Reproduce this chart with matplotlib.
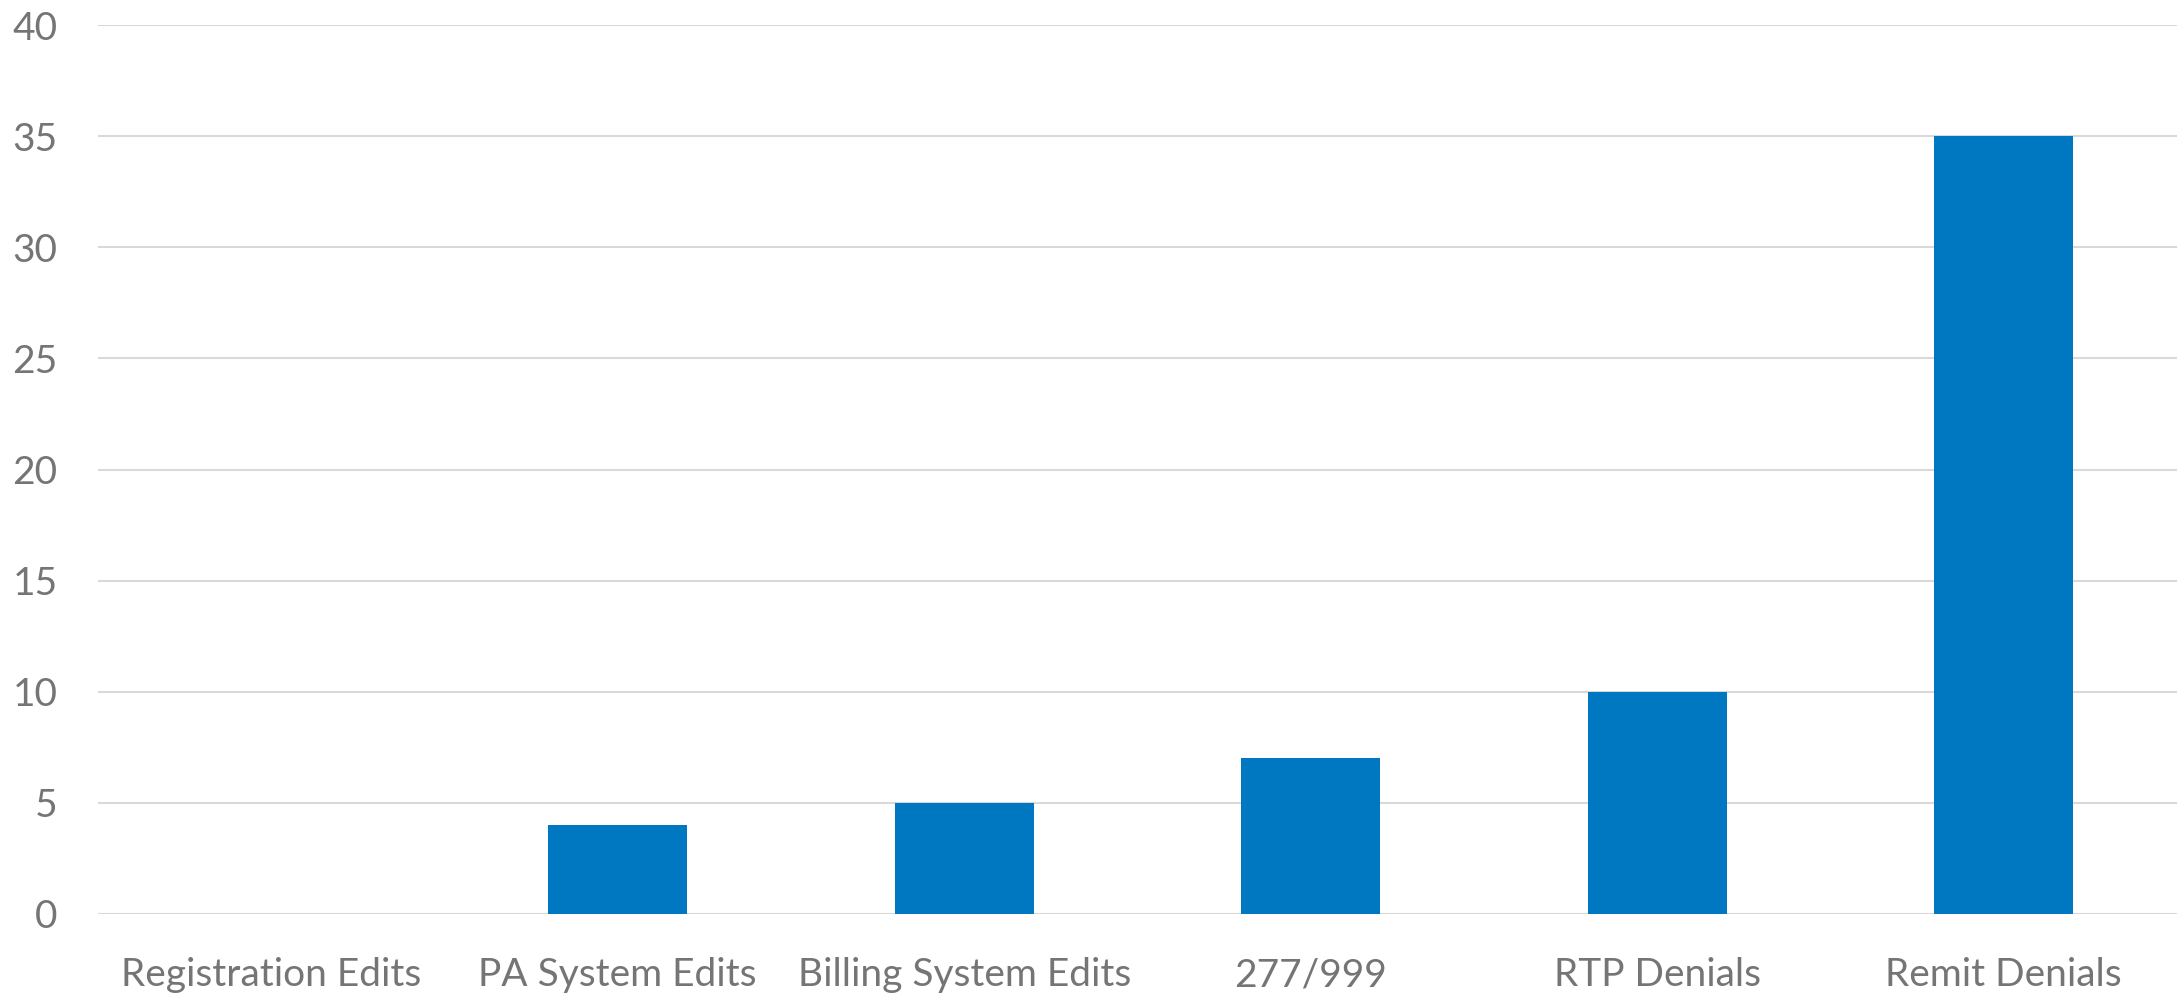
import matplotlib
matplotlib.use("Agg")
import matplotlib.pyplot as plt
import numpy as np

# Data
categories = ["Registration Edits", "PA System Edits", "Billing System Edits",
              "277/999", "RTP Denials", "Remit Denials"]
counts = [0, 4, 5, 7, 10, 35]
y_ticks = [0, 5, 10, 15, 20, 25, 30, 35, 40]

bar_color = "#0078C1"
text_color = "#757575"
grid_color = "#D9D9D9"

plt.rcParams['font.family'] = ['Lato', 'DejaVu Sans']

fig = plt.figure(figsize=(21.78, 9.94), dpi=100)
ax = fig.add_axes([98/2178, 1 - 914/994, (2177-98)/2178, (914-25)/994])

x = np.arange(len(categories))
ax.bar(x, counts, width=0.4, color=bar_color, zorder=3)

ax.set_xlim(-0.5, len(categories) - 0.5)
ax.set_ylim(0, 40)
ax.set_yticks(y_ticks)
ax.set_xticks(x)
ax.set_xticklabels(categories)

ax.yaxis.grid(True, color=grid_color, linewidth=1.5, zorder=0)
for s in ax.spines.values():
    s.set_visible(False)
ax.tick_params(axis="both", length=0, labelsize=28, labelcolor=text_color)
ax.tick_params(axis="y", pad=29)
ax.tick_params(axis="x", pad=31)

fig.savefig("out.png", dpi=100)
